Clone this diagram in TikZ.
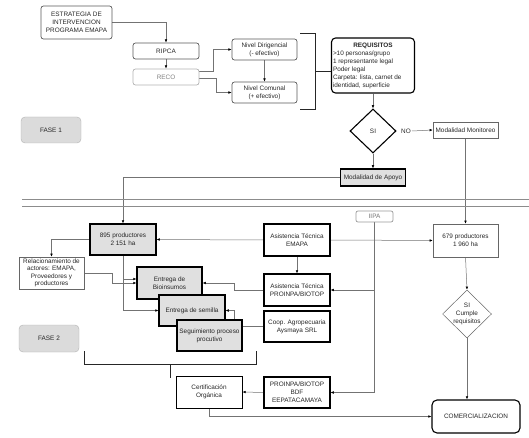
\documentclass[tikz,border=0pt]{standalone}
\usepackage{fontspec}
\setmainfont{Liberation Sans}
\usetikzlibrary{shapes.geometric,arrows.meta,backgrounds}

\begin{document}
\begin{tikzpicture}[x=1pt,y=-1pt,
  every node/.style={font=\fontsize{6.4}{8}\selectfont, text=black!85, inner sep=1pt, align=center},
  box/.style={draw=black!60, line width=.5pt},
  bold box/.style={draw=black, line width=1.1pt},
  shaded/.style={bold box, fill=black!12},
  soft/.style={draw=black!65, line width=.7pt, rounded corners=2.5pt},
  fase/.style={draw=black!30, fill=black!14, rounded corners=4pt, minimum width=60, minimum height=26},
  rombo/.style={diamond, inner sep=-6pt},
  link/.style={draw=black!55, line width=.5pt},
  arr/.style={link, -{Latex[length=3.2pt,width=2.6pt,color=black]}}]
\useasboundingbox (0,0) rectangle (529,438);

\node[soft, minimum width=71, minimum height=33] (estr) at (76.5,22.5) {ESTRATEGIA DE\\INTERVENCION\\PROGRAMA EMAPA};
\node[soft, minimum width=66, minimum height=16] (ripca) at (166,51) {RIPCA};
\node[soft, draw=black!30, text=black!50, minimum width=66, minimum height=16] (reco) at (166,77) {RECO};
\node[soft, minimum width=65, minimum height=21] (dirig) at (264.5,49.5) {Nivel Dirigencial\\(- efectivo)};
\node[soft, minimum width=65, minimum height=21] (comun) at (264.5,92.5) {Nivel Comunal\\(+ efectivo)};
\node[bold box, rounded corners=4pt, minimum width=83, minimum height=55] (req) at (373,65.5) {\textbf{REQUISITOS}\\[1pt]\parbox{80pt}{\raggedright >10 personas/grupo\\1 representante legal\\Poder legal\\Carpeta: lista, carnet de\\identidad, superficie}};
\node[rombo, draw=black, line width=1.1pt, minimum width=46, minimum height=44] (si) at (373,131) {SI};
\node (no) at (406,131) {NO};
\node[box, minimum width=65, minimum height=16] (monit) at (465.5,130) {Modalidad Monitoreo};
\node[shaded, minimum width=65, minimum height=17] (apoyo) at (373,177.5) {Modalidad de Apoyo};
\node[fase] (fase1) at (51,130) {FASE 1};

\coordinate (t1) at (300,33);
\coordinate (t2) at (315,33);
\coordinate (t3) at (315,109);
\coordinate (t4) at (300,109);
\coordinate (t5) at (315,71);
\draw[line width=.9pt, black!85] (t1) -- (t2) -- (t3) -- (t4);
\draw[line width=.9pt, black!85] (t5) -- (t5 -| req.west);

\coordinate (d1) at (22,199);
\coordinate (d2) at (529,199);
\coordinate (d3) at (22,206);
\coordinate (d4) at (529,206);
\draw[black!45, line width=.6pt] (d1) -- (d2);
\draw[black!45, line width=.6pt] (d3) -- (d4);

\node[shaded, minimum width=66, minimum height=31] (p895) at (123,239.5) {895 productores\\2 151 ha};
\node[box, font=\fontsize{6.4}{7.5}\selectfont, minimum width=65, minimum height=32] (rel) at (51.5,273) {Relacionamiento de\\actores: EMAPA,\\Proveedores y\\productores};
\node[shaded, minimum width=65, minimum height=32] (bio) at (169.5,283) {Entrega de\\Bioinsumos};
\node[shaded, minimum width=66, minimum height=31] (sem) at (192,310.5) {Entrega de semilla};
\node[shaded, minimum width=65, minimum height=31] (seg) at (209.5,335.5) {Seguimiento proceso\\procutivo};
\node[bold box, minimum width=66, minimum height=32] (ate) at (297,240) {Asistencia Técnica\\EMAPA};
\node[bold box, minimum width=66, minimum height=32] (atp) at (297,290) {Asistencia Técnica\\PROINPA/BIOTOP};
\node[bold box, minimum width=66, minimum height=31] (coop) at (297,326.5) {Coop. Agropecuaria\\Aysmaya SRL};
\node[soft, draw=black!40, text=black!55, rounded corners=2pt, minimum width=37, minimum height=11] (iipa) at (374.5,216.5) {IIPA};
\node[box, minimum width=65, minimum height=33] (p679) at (465.5,240.5) {679 productores\\1 960 ha};
\node[rombo, box, minimum width=49, minimum height=48] (cumple) at (467,314) {SI\\Cumple\\requisitos};
\node[bold box, rounded corners=5pt, minimum width=88, minimum height=33] (comer) at (476,416.5) {COMERCIALIZACION};
\node[fase, minimum height=27] (fase2) at (49,338.5) {FASE 2};
\node[bold box, line width=.9pt, minimum width=66, minimum height=32] (cert) at (209,392) {Certificación\\Orgánica};
\node[bold box, minimum width=66, minimum height=31] (bdf) at (297,392.5) {PROINPA/BIOTOP\\BDF\\EEPATACAMAYA};

\coordinate (b1) at (84,351);
\coordinate (b2) at (84,364);
\coordinate (b3) at (256,364);
\coordinate (b4) at (256,351);
\coordinate (b5) at (170,364);
\coordinate (b6) at (170,378);
\draw[line width=.9pt, black!85] (b1) -- (b2) -- (b3) -- (b4);
\draw[line width=.9pt, black!85] (b5) -- (b6);

\begin{scope}[on background layer]
\draw[arr] (estr.east) -| (ripca.north);
\draw[arr] (ripca.south) -- (reco.north);
\draw[arr] ([yshift=6pt]reco.east) -- ++(14,0) |- (dirig.west);
\draw[arr] ([yshift=-1pt]reco.east) -- ++(17,0) |- (comun.west);
\draw[arr] (dirig.south) -- (comun.north);
\draw[arr] (req.south) -- (si.north);
\draw[arr] (no.east) -- (monit.west);
\draw[arr] (si.south) -- (apoyo.north);
\draw[arr] (apoyo.west) -| (p895.north);
\draw[arr] (monit.south) -- (p679.north);
\draw[arr] (ate.west) -- (p895.east);
\draw[arr] (ate.east) -- (p679.west);
\draw[arr] (ate.south) -- (atp.north);
\draw[arr] (p895.west) -| (rel.north);
\draw[arr] (rel.east) -- ++(28,0) |- (bio.west);
\draw[arr] (p895.south) |- (sem.west);
\draw[arr] (p895.south |- 0,279) -- (bio.west |- 0,279);
\draw[arr] (atp.west) -- ++(-29,0) |- (bio.east);
\draw[arr] (coop.west) -- ++(-29,0) |- (sem.east);
\draw[arr] (iipa.south) |- (bdf.east);
\draw[arr] (iipa.south |- atp.east) -- (atp.east);
\draw[arr] (bdf.west) -- (cert.east);
\draw[arr] (cert.south) |- (comer.west);
\draw[arr] (p679.south) -- (cumple.north);
\draw[arr] (cumple.south) -- (cumple.south |- comer.north);
\end{scope}
\end{tikzpicture}
\end{document}
